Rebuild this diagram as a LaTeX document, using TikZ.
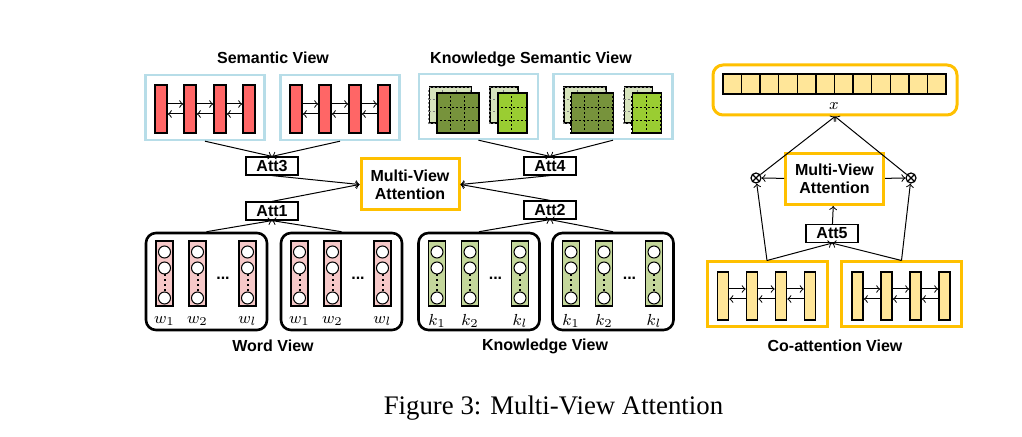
\documentclass[tikz,border=0pt]{standalone}
\usepackage{fontspec}
\setmainfont{Liberation Serif}
\setsansfont{Liberation Sans}

\definecolor{barred}{RGB}{255,102,102}
\definecolor{viewblue}{RGB}{183,221,232}
\definecolor{gold}{RGB}{255,192,0}
\definecolor{wordpink}{RGB}{246,200,200}
\definecolor{knowgreen}{RGB}{196,215,155}
\definecolor{palegreen}{RGB}{215,228,189}
\definecolor{olivegreen}{RGB}{119,147,60}
\definecolor{limegreen}{RGB}{154,205,50}
\definecolor{cellyellow}{RGB}{255,230,153}

\tikzset{
    viewtitle/.style={font=\sffamily\bfseries\fontsize{8}{9}\selectfont, anchor=base},
    viewbox/.style={draw=viewblue, line width=1.2pt, minimum width=59.5pt, minimum height=32.5pt, inner sep=0pt},
    redbar/.style={draw, fill=barred, line width=0.8pt, minimum width=6pt, minimum height=24pt, inner sep=0pt},
    sheet/.style={draw, line width=0.8pt, inner sep=0pt},
    frontgrid/.style={line width=0.6pt, dash pattern=on 1pt off 1pt},
    backgrid/.style={gray, line width=0.4pt, dash pattern=on 1pt off 1pt},
    attbox/.style={draw, line width=0.6pt, minimum width=26pt, minimum height=9pt, inner sep=0pt,
        font=\sffamily\bfseries\fontsize{8}{9}\selectfont},
    mvbox/.style={draw=gold, line width=1.5pt, minimum width=49pt, minimum height=25.5pt, inner sep=0pt,
        align=center, font=\sffamily\bfseries\fontsize{8}{9}\selectfont},
    inview/.style={draw, line width=1.3pt, rounded corners=5pt, minimum width=60.5pt, minimum height=48.5pt, inner sep=0pt},
    wordcol/.style={draw, line width=0.8pt, minimum width=8.5pt, minimum height=32.5pt, inner sep=0pt},
    unit/.style={circle, draw, fill=white, line width=0.5pt, minimum size=6pt, inner sep=0pt},
    dotcol/.style={line width=1pt, dash pattern=on 1pt off 1.5pt},
    wlabel/.style={font=\fontsize{8}{9}\selectfont, inner sep=0pt},
    dotsep/.style={font=\sffamily\bfseries\fontsize{8}{9}\selectfont, inner sep=0pt, anchor=base},
    outbox/.style={draw=gold, line width=1.5pt, rounded corners=5pt, minimum width=122pt, minimum height=25pt, inner sep=0pt},
    cell/.style={draw, fill=cellyellow, line width=0.7pt, minimum width=9.29pt, minimum height=10pt, inner sep=0pt},
    cobox/.style={draw=gold, line width=1.5pt, minimum width=60pt, minimum height=32.5pt, inner sep=0pt},
    yellowbar/.style={draw, fill=cellyellow, line width=0.8pt, minimum width=5.5pt, minimum height=24pt, inner sep=0pt},
    otimes/.style={circle, draw, fill=white, line width=0.6pt, minimum size=5pt, inner sep=0pt,
        path picture={\draw[line width=0.6pt]
            (path picture bounding box.north west) -- (path picture bounding box.south east)
            (path picture bounding box.north east) -- (path picture bounding box.south west);}},
    flow/.style={->, line width=0.5pt}
}

\begin{document}
\begin{tikzpicture}[x=0.5pt, y=-0.5pt]
    % Fix the page to the size of the reference
    \useasboundingbox (0,0) rectangle (1022,437);

    % Semantic View with two chains of red bars
    \node[viewtitle] (semtitle) at (273,64) {Semantic View};
    \foreach \sv/\cx in {semA/205, semB/340}{
        \node[viewbox] (\sv) at (\cx,107.5) {};
        \foreach \dx [count=\i] in {-44,-15,15,44}
            \node[redbar] (\sv b\i) at (\cx+\dx,109) {};
        \foreach \i/\j in {1/2, 2/3, 3/4}{
            \draw[flow] ([yshift=2.5pt]\sv b\i.east) -- ([yshift=2.5pt]\sv b\j.west);
            \draw[flow] ([yshift=-2.5pt]\sv b\j.west) -- ([yshift=-2.5pt]\sv b\i.east);
        }
    }

    % Knowledge Semantic View with stacked sheets
    \node[viewtitle] (kstitle) at (531,64) {Knowledge Semantic View};
    \foreach \sv/\cx in {ksA/478.5, ksB/613}{
        \node[viewbox] (\sv) at (\cx,106.5) {};
        \node[sheet, fill=palegreen, minimum width=21pt, minimum height=18pt] (\sv p1) at (\cx-28,105) {};
        \draw[backgrid, shift={(\sv p1.south west)}, xstep=7pt, ystep=6pt] (0,0) grid (21pt,18pt);
        \node[sheet, fill=olivegreen, minimum width=21pt, minimum height=20pt] (\sv f1) at (\cx-20.5,113) {};
        \draw[frontgrid, shift={(\sv f1.south west)}, xstep=7pt, ystep=6.667pt] (0,0) grid (21pt,20pt);
        \node[sheet, fill=palegreen, minimum width=14pt, minimum height=18pt] (\sv p2) at (\cx+25.5,105) {};
        \draw[backgrid, shift={(\sv p2.south west)}, xstep=7pt, ystep=6pt] (0,0) grid (14pt,18pt);
        \node[sheet, fill=limegreen, minimum width=14.5pt, minimum height=20pt] (\sv f2) at (\cx+34,113) {};
        \draw[frontgrid, shift={(\sv f2.south west)}, xstep=7.25pt, ystep=6.667pt] (0,0) grid (14.5pt,20pt);
    }

    % Word View and Knowledge View with columns of units
    \foreach \sv/\cx/\ltr/\fc in {wvA/206.5/w/wordpink, wvB/341.5/w/wordpink,
                                  kvA/479/k/knowgreen, kvB/613/k/knowgreen}{
        \node[inview] (\sv) at (\cx,281.5) {};
        \foreach \dx/\sub [count=\i] in {-42/1, -9/2, 41/l}{
            \node[wordcol, fill=\fc] (\sv c\i) at (\cx+\dx,273.5) {};
            \node[unit] (\sv c\i a) at (\cx+\dx,252) {};
            \node[unit] (\sv c\i b) at (\cx+\dx,268) {};
            \node[unit] (\sv c\i c) at (\cx+\dx,298) {};
            \draw[dotcol] (\sv c\i b) -- (\sv c\i c);
            \node[wlabel] (\sv l\i) at (\cx+\dx,321) {$\ltr_{\sub}$};
        }
        \node[dotsep] (\sv dots) at (\cx+16.5,280) {...};
    }
    \node[viewtitle] (wvtitle) at (273,352) {Word View};
    \node[viewtitle] (kvtitle) at (545,351) {Knowledge View};

    % Attention boxes in the middle
    \node[attbox] (att3) at (272,166) {Att3};
    \node[attbox] (att1) at (272,211) {Att1};
    \node[attbox] (att4) at (550,166) {Att4};
    \node[attbox] (att2) at (550,210) {Att2};
    \node[mvbox] (mva) at (410,184.5) {Multi-View\\Attention};

    % Connect the views to the attention boxes
    \draw[flow] (semA.south) -- (att3.north);
    \draw[flow] (semB.south) -- (att3.north);
    \draw[flow] (ksA.south) -- (att4.north);
    \draw[flow] (ksB.south) -- (att4.north);
    \draw[flow] (wvA.north) -- (att1.south);
    \draw[flow] (wvB.north) -- (att1.south);
    \draw[flow] (kvA.north) -- (att2.south);
    \draw[flow] (kvB.north) -- (att2.south);
    \draw[flow] (att3.south) -- (mva.west);
    \draw[flow] (att1.north) -- (mva.west);
    \draw[flow] (att4.south) -- (mva.east);
    \draw[flow] (att2.north) -- (mva.east);

    % Co-attention View: output strip on top
    \node[outbox] (outbox) at (835,90) {};
    \foreach \i in {1,...,12}
        \node[cell] (cell\i) at (713.71+18.58*\i,84) {};
    \node[wlabel] (xlab) at (834,106) {$x$};

    % Co-attention View: attention and products
    \node[mvbox] (mvb) at (834.5,179) {Multi-View\\Attention};
    \node[otimes] (otL) at (756,178) {};
    \node[otimes] (otR) at (911,178) {};
    \node[attbox] (att5) at (832,233.5) {Att5};

    % Co-attention View: two chains of yellow bars
    \foreach \sv/\cx in {coA/767, coB/901.5}{
        \node[cobox] (\sv) at (\cx,294.5) {};
        \foreach \dx [count=\i] in {-44,-15,14,43}
            \node[yellowbar] (\sv b\i) at (\cx+\dx,296) {};
        \foreach \i/\j in {1/2, 2/3, 3/4}{
            \draw[flow] ([yshift=3.5pt]\sv b\i.east) -- ([yshift=3.5pt]\sv b\j.west);
            \draw[flow] ([yshift=-1.5pt]\sv b\j.west) -- ([yshift=-1.5pt]\sv b\i.east);
        }
    }
    \node[viewtitle] (cotitle) at (835,352) {Co-attention View};

    % Connect the co-attention parts
    \draw[flow] (coA.north) -- (otL);
    \draw[flow] (coA.north) -- (att5.south);
    \draw[flow] (coB.north) -- (att5.south);
    \draw[flow] (coB.north) -- (otR);
    \draw[flow] (att5) -- (mvb);
    \draw[flow] (mvb) -- (otL);
    \draw[flow] (mvb) -- (otR);
    \draw[flow] (otL) -- (outbox.south);
    \draw[flow] (otR) -- (outbox.south);

    % Caption
    \node[anchor=base, font=\fontsize{13.4}{16}\selectfont] (caption) at (553.5,415) {Figure 3: Multi-View Attention};
\end{tikzpicture}
\end{document}
